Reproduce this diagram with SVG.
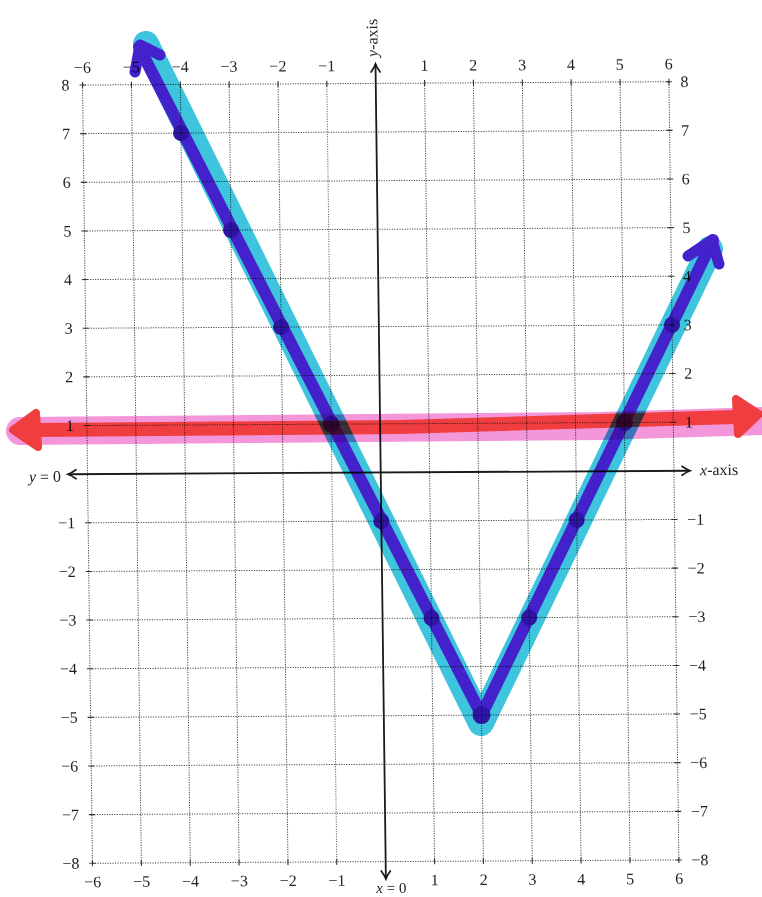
<svg xmlns="http://www.w3.org/2000/svg" width="762" height="897" viewBox="0 0 762 897">
  <style>
    .grid { stroke: #4a4a4a; stroke-width: 1; stroke-dasharray: 1.2 1.3; fill: none; }
    .tick { stroke: #333; stroke-width: 1.1; fill: none; }
    .axis { stroke: #1a1a1a; stroke-width: 1.8; fill: none; }
    .lbl { font-family: "Liberation Serif", "DejaVu Serif", serif; font-size: 16px; fill: #222; }
    .mid { text-anchor: middle; }
    .end { text-anchor: end; }
    .it { font-style: italic; }
    .hl { mix-blend-mode: multiply; }
  </style>
  <defs>
    <marker id="ah" viewBox="-10 -6 12 12" refX="0" refY="0" markerWidth="12" markerHeight="12" markerUnits="userSpaceOnUse" orient="auto-start-reverse">
      <path d="M -8 -4.5 Q -3 -1 0 0 Q -3 1 -8 4.5" fill="none" stroke="#1a1a1a" stroke-width="1.7" stroke-linecap="round"/>
    </marker>
  </defs>
  <rect width="762" height="897" fill="#ffffff"/>

  <g id="paper" transform="matrix(1 -0.00563 0.01275 1 -6.02 2.14)">
    <g id="grid" class="grid">
      <path d="M87.5 83.4V861.6M136.4 83.4V861.6M185.3 83.4V861.6M234.1 83.4V861.6M283 83.4V861.6M331.8 83.4V861.6M429.6 83.4V861.6M478.4 83.4V861.6M527.3 83.4V861.6M576.1 83.4V861.6M625 83.4V861.6M673.9 83.4V861.6"/>
      <path d="M87.5 83.4H673.9M87.5 132H673.9M87.5 180.7H673.9M87.5 229.3H673.9M87.5 277.9H673.9M87.5 326.6H673.9M87.5 375.2H673.9M87.5 423.9H673.9M87.5 521.1H673.9M87.5 569.8H673.9M87.5 618.4H673.9M87.5 667.1H673.9M87.5 715.7H673.9M87.5 764.3H673.9M87.5 813H673.9M87.5 861.6H673.9"/>
    </g>
    <g id="ticks" class="tick">
      <path d="M87.5 80.4V86.4M136.4 80.4V86.4M185.3 80.4V86.4M234.1 80.4V86.4M283 80.4V86.4M331.8 80.4V86.4M429.6 80.4V86.4M478.4 80.4V86.4M527.3 80.4V86.4M576.1 80.4V86.4M625 80.4V86.4M673.9 80.4V86.4"/>
      <path d="M87.5 858.6V864.6M136.4 858.6V864.6M185.3 858.6V864.6M234.1 858.6V864.6M283 858.6V864.6M331.8 858.6V864.6M429.6 858.6V864.6M478.4 858.6V864.6M527.3 858.6V864.6M576.1 858.6V864.6M625 858.6V864.6M673.9 858.6V864.6"/>
      <path d="M84.5 83.4H90.5M84.5 132H90.5M84.5 180.7H90.5M84.5 229.3H90.5M84.5 277.9H90.5M84.5 326.6H90.5M84.5 375.2H90.5M84.5 423.9H90.5M84.5 521.1H90.5M84.5 569.8H90.5M84.5 618.4H90.5M84.5 667.1H90.5M84.5 715.7H90.5M84.5 764.3H90.5M84.5 813H90.5M84.5 861.6H90.5"/>
      <path d="M670.9 83.4H676.9M670.9 132H676.9M670.9 180.7H676.9M670.9 229.3H676.9M670.9 277.9H676.9M670.9 326.6H676.9M670.9 375.2H676.9M670.9 423.9H676.9M670.9 521.1H676.9M670.9 569.8H676.9M670.9 618.4H676.9M670.9 667.1H676.9M670.9 715.7H676.9M670.9 764.3H676.9M670.9 813H676.9M670.9 861.6H676.9"/>
    </g>
    <g id="axes">
      <path id="x-axis" class="axis" d="M68 472.5H690" marker-start="url(#ah)" marker-end="url(#ah)"/>
      <path id="y-axis" class="axis" d="M380.7 64V879" marker-start="url(#ah)" marker-end="url(#ah)"/>
    </g>
    <g id="labels-top" class="lbl mid">
      <text x="87.5" y="71">−6</text><text x="136.4" y="71">−5</text><text x="185.3" y="71">−4</text>
      <text x="234.1" y="71">−3</text><text x="283" y="71">−2</text><text x="331.8" y="71">−1</text>
      <text x="429.6" y="71">1</text><text x="478.4" y="71">2</text><text x="527.3" y="71">3</text>
      <text x="576.1" y="71">4</text><text x="625" y="71">5</text><text x="673.9" y="71">6</text>
    </g>
    <g id="labels-bottom" class="lbl mid">
      <text x="87.5" y="885.5">−6</text><text x="136.4" y="885.5">−5</text><text x="185.3" y="885.5">−4</text>
      <text x="234.1" y="885.5">−3</text><text x="283" y="885.5">−2</text><text x="331.8" y="885.5">−1</text>
      <text x="429.6" y="885.5">1</text><text x="478.4" y="885.5">2</text><text x="527.3" y="885.5">3</text>
      <text x="576.1" y="885.5">4</text><text x="625" y="885.5">5</text><text x="673.9" y="885.5">6</text>
    </g>
    <g id="labels-left" class="lbl end">
      <text x="74.5" y="88.8">8</text><text x="74.5" y="137.4">7</text><text x="74.5" y="186.1">6</text>
      <text x="74.5" y="234.7">5</text><text x="74.5" y="283.3">4</text><text x="74.5" y="332">3</text>
      <text x="74.5" y="380.6">2</text><text x="74.5" y="429.3">1</text>
      <text x="74.5" y="526.5">−1</text><text x="74.5" y="575.2">−2</text><text x="74.5" y="623.8">−3</text>
      <text x="74.5" y="672.5">−4</text><text x="74.5" y="721.1">−5</text><text x="74.5" y="769.7">−6</text>
      <text x="74.5" y="818.4">−7</text><text x="74.5" y="867">−8</text>
    </g>
    <g id="labels-right" class="lbl">
      <text x="685.5" y="88.8">8</text><text x="685.5" y="137.4">7</text><text x="685.5" y="186.1">6</text>
      <text x="685.5" y="234.7">5</text><text x="685.5" y="283.3">4</text><text x="685.5" y="332">3</text>
      <text x="685.5" y="380.6">2</text><text x="685.5" y="429.3">1</text>
      <text x="686.5" y="526.5">−1</text><text x="686.5" y="575.2">−2</text><text x="686.5" y="623.8">−3</text>
      <text x="686.5" y="672.5">−4</text><text x="686.5" y="721.1">−5</text><text x="686.5" y="769.7">−6</text>
      <text x="686.5" y="818.4">−7</text><text x="686.5" y="867">−8</text>
    </g>
    <g id="axis-titles" class="lbl">
      <text x="700" y="477"><tspan class="it">x</tspan>-axis</text>
      <text x="61" y="480" class="end"><tspan class="it">y</tspan> = 0</text>
      <text x="386" y="893" class="mid" style="font-size:15px"><tspan class="it">x</tspan> = 0</text>
      <text transform="translate(383 57) rotate(-90)"><tspan class="it">y</tspan>-axis</text>
    </g>
  </g>

  <g id="line-y1" class="hl">
    <path d="M20 431 L600 426 L762 421" fill="none" stroke="#f496da" stroke-width="28" stroke-linecap="round" stroke-linejoin="round"/>
    <path d="M34 430 L400 427 L735 417" fill="none" stroke="#f03e40" stroke-width="14" stroke-linecap="round" stroke-linejoin="round"/>
    <path d="M13 430 L36 413 L38 447 Z" fill="#f03e40" stroke="#f03e40" stroke-width="8" stroke-linejoin="round"/>
    <path d="M759 414 L736 399 L738 434 Z" fill="#f03e40" stroke="#f03e40" stroke-width="8" stroke-linejoin="round"/>
  </g>

  <g id="abs-graph" class="hl">
    <path d="M146 44 L481 723 L710 249" fill="none" stroke="#3ec4dc" stroke-width="26" stroke-linecap="round" stroke-linejoin="round"/>
    <path d="M139 47 L481.5 715 L713 240" fill="none" stroke="#4322cb" stroke-width="12" stroke-linecap="round" stroke-linejoin="round"/>
    <path d="M135 72 L140 45 L160 55" fill="none" stroke="#4322cb" stroke-width="11" stroke-linecap="round" stroke-linejoin="round"/>
    <path d="M688 256 L712 240 L719 264" fill="none" stroke="#4322cb" stroke-width="11" stroke-linecap="round" stroke-linejoin="round"/>
    <g id="points" fill="#2f15a6">
      <circle cx="181" cy="133.1" r="8"/>
      <circle cx="231" cy="230.1" r="8"/>
      <circle cx="281.1" cy="327.1" r="8"/>
      <circle cx="331.2" cy="424.2" r="8.5"/>
      <circle cx="381.3" cy="521.1" r="8"/>
      <circle cx="431.5" cy="618.1" r="8"/>
      <circle cx="481.5" cy="715.1" r="9"/>
      <circle cx="529.2" cy="617.6" r="8"/>
      <circle cx="576.7" cy="520" r="8"/>
      <circle cx="624.4" cy="422.5" r="8.5"/>
      <circle cx="672" cy="324.9" r="8"/>
    </g>
  </g>
</svg>
